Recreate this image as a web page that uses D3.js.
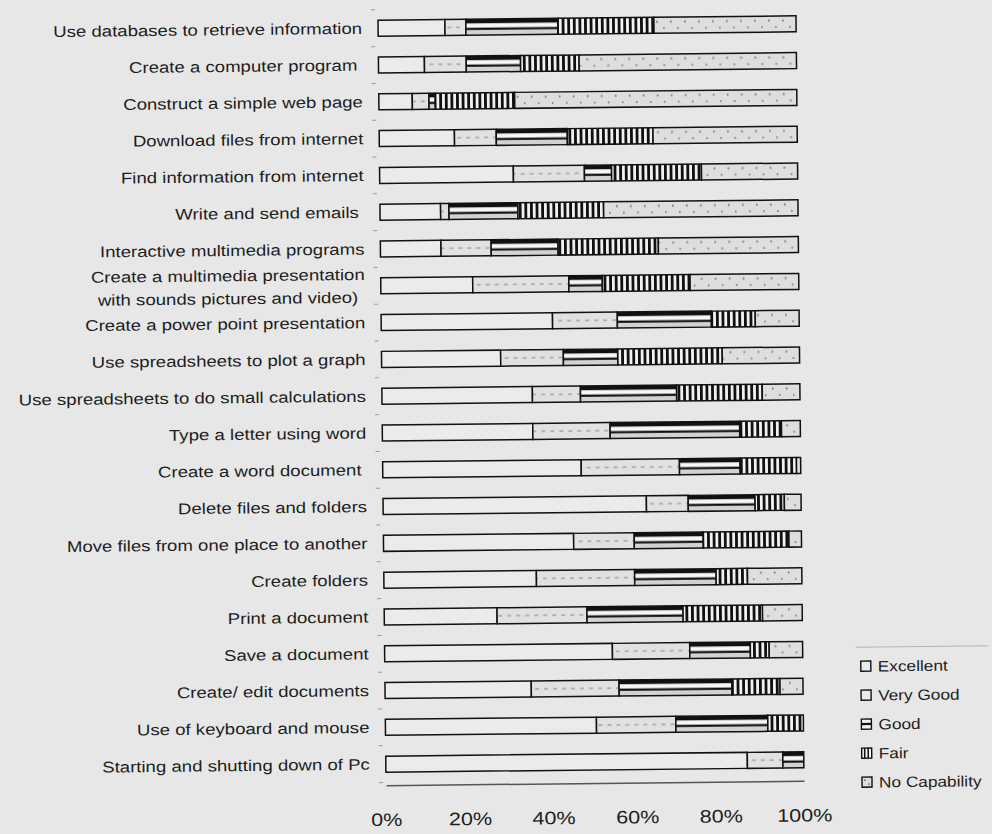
<!DOCTYPE html>
<html>
<head>
<meta charset="utf-8">
<script src="https://cdn.jsdelivr.net/npm/d3@7"></script>
<style>
  html, body { margin: 0; padding: 0; background: #e7e7e7; }
  svg { display: block; }
  text { font-family: "Liberation Sans", Arial, sans-serif; fill: #1d1d1d; white-space: pre; }
</style>
</head>
<body>
<script>
// Self-rated ICT skills, share of respondents per rating (top row first)
const categories = [
  "Use databases to retrieve information",
  "Create a computer program ",
  "Construct a simple web page",
  "Download files from internet",
  "Find information from internet",
  "Write and send emails ",
  "Interactive multimedia programs",
  "Create a multimedia presentation\nwith sounds pictures and video)",
  "Create a power point presentation",
  "Use spreadsheets to plot a graph",
  "Use spreadsheets to do small calculations",
  "Type a letter using word",
  "Create a word document ",
  "Delete files and folders",
  "Move files from one place to another",
  "Create folders",
  "Print a document",
  "Save a document",
  "Create/ edit documents",
  "Use of keyboard and mouse",
  "Starting and shutting down of Pc"
];
const seriesNames = ["Excellent", "Very Good", "Good", "Fair", "No Capability"];
const excellent    = [16, 11, 8, 18, 32, 14.5, 14.5, 22, 41, 28.5, 36, 36, 47.5, 63, 45.5, 36.5, 27, 54.5, 35, 50.5, 86.5];
const veryGood     = [5, 10, 4, 10, 17, 2, 12, 23, 15.5, 15, 11.5, 18.5, 23.5, 10, 14.5, 23.5, 21.5, 18.5, 21, 19, 8.5];
const good         = [22, 13, 1.5, 17, 6.5, 16.5, 16, 8, 22.5, 13, 23, 31, 14.5, 16, 16.5, 19.5, 23, 14.5, 27, 22, 5];
const fair         = [23, 14, 19, 20.5, 21.5, 20.5, 24, 21, 10.5, 25, 20.5, 10, 13.5, 7, 20.5, 7.5, 19, 4.5, 11.5, 8.5, 0];
const noCapability = [34, 52, 67.5, 34.5, 23, 46.5, 33.5, 26, 10.5, 18.5, 9, 4.5, 1, 4, 3, 13, 9.5, 8, 5.5, 0, 0];
const tickValues = [0, 20, 40, 60, 80, 100];

const seriesValues = [excellent, veryGood, good, fair, noCapability];
const rows = categories.map((c, i) => {
  const r = { category: c };
  seriesNames.forEach((s, k) => { r[s] = seriesValues[k][i]; });
  return r;
});
const stacked = d3.stack().keys(seriesNames)(rows);

const W = 992, H = 834;
const svg = d3.select("body").append("svg").attr("width", W).attr("height", H);
svg.append("rect").attr("width", W).attr("height", H).attr("fill", "#e7e7e7");
const defs = svg.append("defs");

const x = d3.scaleLinear().domain([0, 100]).range([382, 800]);
const y = d3.scaleBand().domain(categories).range([7.6, 780.4])
  .paddingInner(0.565).paddingOuter(0.2825);
const bw = y.bandwidth();
const step = y.step();
const y0 = y(categories[0]);

// Fill textures, tiled so each repeat lines up with one bar row
function tile(id, w) {
  return defs.append("pattern").attr("id", id)
    .attr("patternUnits", "userSpaceOnUse")
    .attr("x", 0).attr("y", y0).attr("width", w).attr("height", step);
}
const pVG = tile("p-vg", 9);
pVG.append("rect").attr("width", 9).attr("height", step).attr("fill", "#e1e1e1");
pVG.append("rect").attr("x", 1).attr("y", bw / 2 - 0.7).attr("width", 4).attr("height", 1.4).attr("fill", "#a0a0a0");

const pGood = tile("p-good", 4);
pGood.append("rect").attr("width", 4).attr("height", step).attr("fill", "#d2d2d2");
pGood.append("rect").attr("y", 0).attr("width", 4).attr("height", 4.4).attr("fill", "#111");
pGood.append("rect").attr("y", 4.4).attr("width", 4).attr("height", 4.2).attr("fill", "#f7f7f7");
pGood.append("rect").attr("y", 8.6).attr("width", 4).attr("height", 2.2).attr("fill", "#111");

const pFair = tile("p-fair", 5.6);
pFair.append("rect").attr("width", 5.6).attr("height", step).attr("fill", "#f1f1f1");
pFair.append("rect").attr("width", 2.8).attr("height", step).attr("fill", "#111");

const pNC = tile("p-nc", 14);
pNC.append("rect").attr("width", 14).attr("height", step).attr("fill", "#dedede");
pNC.append("rect").attr("x", 2).attr("y", 3.5).attr("width", 1.6).attr("height", 2).attr("fill", "#7a7a7a");
pNC.append("rect").attr("x", 9).attr("y", 10).attr("width", 1.6).attr("height", 2).attr("fill", "#8a8a8a");

const fills = {
  "Excellent": "#ebebeb",
  "Very Good": "url(#p-vg)",
  "Good": "url(#p-good)",
  "Fair": "url(#p-fair)",
  "No Capability": "url(#p-nc)"
};

const g = svg.append("g").attr("transform", "rotate(-0.6,590,400)");

// category tick marks between rows
g.append("g").selectAll("line")
  .data(d3.range(categories.length + 1))
  .join("line")
  .attr("x1", x(0) - 7).attr("x2", x(0) - 3)
  .attr("y1", i => y0 - (step - bw) / 2 + i * step)
  .attr("y2", i => y0 - (step - bw) / 2 + i * step)
  .attr("stroke", "#9a9a9a").attr("stroke-width", 1);

// stacked bars
g.append("g").selectAll("g")
  .data(stacked)
  .join("g")
  .attr("fill", d => fills[d.key])
  .selectAll("rect")
  .data(d => d.filter(p => p[1] - p[0] > 0))
  .join("rect")
  .attr("x", p => x(p[0]))
  .attr("y", p => y(p.data.category))
  .attr("width", p => x(p[1]) - x(p[0]))
  .attr("height", bw)
  .attr("stroke", "#111")
  .attr("stroke-width", 1.5);

// category labels
const labels = g.append("g").selectAll("g")
  .data(categories)
  .join("g")
  .attr("transform", d => `translate(366,${y(d) + bw / 2}) scale(1.2,1)`);
labels.each(function (d) {
  const lines = d.split("\n");
  const t = d3.select(this).append("text")
    .attr("font-size", 15.5)
    .attr("text-anchor", "end");
  if (lines.length === 1) {
    t.attr("dy", "0.35em").text(d);
  } else {
    const spans = lines.map((ln, k) => t.append("tspan")
      .attr("x", 0)
      .attr("dy", k === 0 ? "-0.39em" : "1.48em")
      .text(ln));
    const widest = d3.max(spans, s => s.node().getComputedTextLength());
    spans.forEach(s => s.attr("x", -widest / 2));
    t.attr("text-anchor", "middle");
  }
});

// percentage axis
const xAxis = g.append("g")
  .attr("transform", "translate(0,783)")
  .call(d3.axisBottom(x).tickValues(tickValues).tickFormat(d => d + "%")
    .tickSize(0).tickSizeOuter(0).tickPadding(28));
xAxis.select(".domain").attr("stroke", "#555").attr("stroke-width", 1.5);
xAxis.selectAll("text")
  .attr("font-size", 18)
  .attr("font-family", "Liberation Sans, Arial, sans-serif")
  .attr("fill", "#1d1d1d")
  .attr("transform", "scale(1.2,1)");

// legend
const legend = g.append("g").attr("transform", "translate(858,669)");
legend.append("line").attr("x1", -5).attr("x2", 128).attr("y1", -19).attr("y2", -19)
  .attr("stroke", "#b5b5b5").attr("stroke-width", 1);
const item = legend.selectAll("g")
  .data(seriesNames)
  .join("g")
  .attr("transform", (d, i) => `translate(0,${i * 29})`);
item.append("rect")
  .attr("x", 0).attr("y", -5).attr("width", 10).attr("height", 10)
  .attr("fill", d => d === "Good" ? "#f4f4f4" : d === "Fair" ? "#f4f4f4" : d === "No Capability" ? "#dedede" : "#ebebeb")
  .attr("stroke", "#111").attr("stroke-width", 1.4);
item.filter(d => d === "Good").append("rect")
  .attr("x", 0).attr("y", -1.2).attr("width", 10).attr("height", 2.2).attr("fill", "#111");
item.filter(d => d === "Fair").selectAll("line.v")
  .data([3, 6.5]).join("line")
  .attr("x1", v => v).attr("x2", v => v).attr("y1", -5).attr("y2", 5)
  .attr("stroke", "#111").attr("stroke-width", 1.5);
item.filter(d => d === "No Capability").selectAll("circle")
  .data([[3, -2], [7, 2]]).join("circle")
  .attr("cx", p => p[0]).attr("cy", p => p[1]).attr("r", 0.8).attr("fill", "#555");
item.append("g").attr("transform", "translate(17,0) scale(1.15,1)")
  .append("text")
  .attr("dy", "0.36em")
  .attr("font-size", 15)
  .text(d => d);
</script>
</body>
</html>
